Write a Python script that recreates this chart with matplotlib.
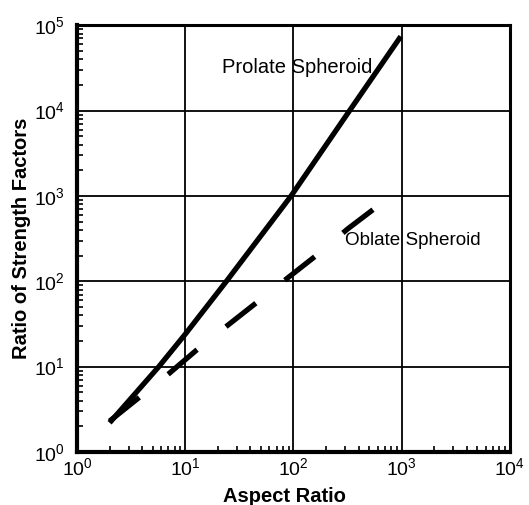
import numpy as np
import matplotlib
matplotlib.use('Agg')
import matplotlib.pyplot as plt
from matplotlib.ticker import LogLocator, NullFormatter

plt.rcParams['font.family'] = ['Liberation Sans', 'DejaVu Sans']
plt.rcParams['mathtext.fontset'] = 'custom'
plt.rcParams['mathtext.rm'] = 'Liberation Sans'
plt.rcParams['mathtext.it'] = 'Liberation Sans:italic'
plt.rcParams['mathtext.bf'] = 'Liberation Sans:bold'

# ---- data ----
prolate_x = [2, 5.7, 10, 24, 95, 330, 980]
prolate_y = [2.2, 10, 24, 100, 1000, 1.0e4, 7.4e4]

oblate_x = [2, 7.0, 12.7, 24.5, 47, 88, 170, 316, 600]
oblate_y = [2.3, 8.2, 15.6, 30.3, 58, 109, 210, 410, 760]

x_label = 'Aspect Ratio'
y_label = 'Ratio of Strength Factors'
prolate_text = 'Prolate Spheroid'
oblate_text = 'Oblate Spheroid'

# ---- figure ----
fig = plt.figure(figsize=(5.29, 5.05), dpi=100)
ax = fig.add_axes([0.1456, 0.105, 0.8184, 0.845])

ax.plot(prolate_x, prolate_y, color='black', lw=3.8, solid_capstyle='butt')
ax.plot(oblate_x, oblate_y, color='black', lw=3.8, dashes=(7.2, 7.0),
        dash_capstyle='butt')

ax.set_xscale('log')
ax.set_yscale('log')
ax.set_xlim(1, 1e4)
ax.set_ylim(1, 1e5)

ax.xaxis.set_major_locator(LogLocator(base=10, numticks=10))
ax.yaxis.set_major_locator(LogLocator(base=10, numticks=10))
ax.xaxis.set_minor_locator(LogLocator(base=10, subs=np.arange(2, 10), numticks=20))
ax.yaxis.set_minor_locator(LogLocator(base=10, subs=np.arange(2, 10), numticks=20))
ax.xaxis.set_minor_formatter(NullFormatter())
ax.yaxis.set_minor_formatter(NullFormatter())

ax.grid(True, which='major', color='black', lw=1.3)
ax.tick_params(which='both', direction='in', top=False, right=False)
ax.tick_params(which='major', length=0, labelsize=14)
ax.tick_params(axis='x', which='major', pad=4)
ax.tick_params(axis='y', which='major', pad=9)
ax.tick_params(which='minor', length=4, width=1.2, color='black')

for side in ['left', 'bottom']:
    ax.spines[side].set_linewidth(3.0)
for side in ['top', 'right']:
    ax.spines[side].set_linewidth(2.2)

ax.text(21.9, 3.2e4, prolate_text, fontsize=14.5, ha='left', va='center')
ax.text(299, 302, oblate_text, fontsize=13.6, ha='left', va='center')

ax.set_xlabel(x_label, fontsize=14.5, fontweight='bold')
ax.set_ylabel(y_label, fontsize=14.5, fontweight='bold')
ax.xaxis.set_label_coords(0.48, -0.082)
ax.yaxis.set_label_coords(-0.106, 0.5)

fig.savefig('out.png', dpi=100)
